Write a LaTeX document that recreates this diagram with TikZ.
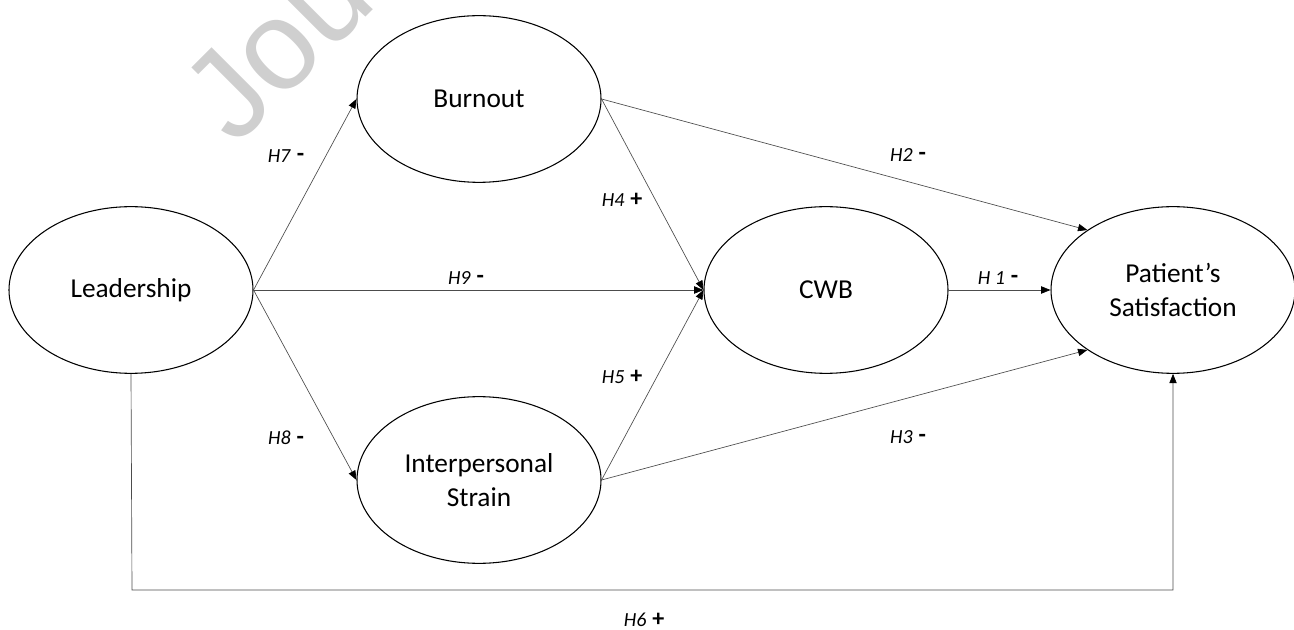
\documentclass[tikz,border=0pt]{standalone}
\usepackage{fontspec}
\setmainfont{Carlito}
\newfontfamily\wmfont{Liberation Sans}
\usetikzlibrary{arrows.meta,shapes.geometric}
\newcommand\sgnmark[1]{\hspace{1pt}{\upshape\bfseries\fontsize{18}{18}\selectfont\raisebox{0.5pt}{#1}}}
\begin{document}
\begin{tikzpicture}[x=0.75pt,y=-0.75pt,
  latent/.style={ellipse,draw=black,line width=0.8pt,fill=white,minimum width=183pt,minimum height=125pt,inner sep=0pt,align=center,font=\fontsize{20.5}{25}\selectfont},
  path/.style={draw=black!70,line width=0.5pt,-{Triangle[length=7pt,width=5.5pt,color=black]}},
  lbl/.style={font=\fontsize{15}{18}\selectfont,inner sep=1pt}]
\useasboundingbox (0,0) rectangle (1294,630);
\begin{scope}
\clip (0,0) rectangle (1294,630);
\node[rotate=45,anchor=base west,text=black!19,font=\wmfont\fontsize{95}{95}\selectfont,inner sep=0pt] (wm) at (235,148) {Jou};
\end{scope}
\node[latent] (L) at (131,290) {Leadership};
\node[latent] (B) at (479,99) {Burnout};
\node[latent] (I) at (479,480) {Interpersonal\\Strain};
\node[latent] (C) at (826,290) {CWB};
\node[latent] (P) at (1173,290) {Patient’s\\Satisfaction};
\coordinate (h6a) at (132,590);
\coordinate (h6b) at (1173,590);
\draw[path] (L.east) -- (B.west);
\draw[path] (L.east) -- (C.west);
\draw[path] (L.east) -- (I.west);
\draw[path] (B.east) -- (C.west);
\draw[path] (I.east) -- (C.west);
\draw[path] (B.east) -- (P.145);
\draw[path] (I.east) -- (P.215);
\draw[path] (C.east) -- (P.west);
\draw[path] (L.south) -- (h6a) -- (h6b) -- (P.south);
\node[lbl] (l7) at (286,156) {\textit{H7} \sgnmark{-}};
\node[lbl] (l9) at (466,278) {\textit{H9} \sgnmark{-}};
\node[lbl] (l4) at (622,200) {\textit{H4} \sgnmark{+}};
\node[lbl] (l2) at (908,155) {\textit{H2} \sgnmark{-}};
\node[lbl] (l1) at (998,278) {\textit{H 1} \sgnmark{-}};
\node[lbl] (l5) at (622,377) {\textit{H5} \sgnmark{+}};
\node[lbl] (l8) at (286,438) {\textit{H8} \sgnmark{-}};
\node[lbl] (l3) at (908,437) {\textit{H3} \sgnmark{-}};
\node[lbl] (l6) at (644,620) {\textit{H6} \sgnmark{+}};
\end{tikzpicture}
\end{document}
